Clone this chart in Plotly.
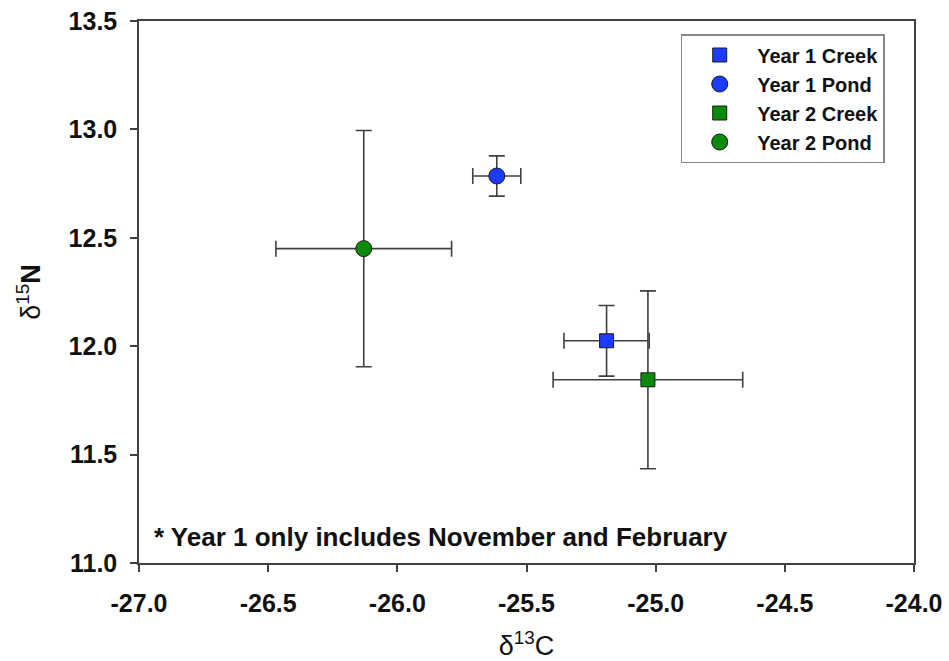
import plotly.graph_objects as go

series_names = ["Year 1 Creek", "Year 1 Pond", "Year 2 Creek", "Year 2 Pond"]
d13c = [-25.19, -25.615, -25.03, -26.13]
d13c_err = [0.165, 0.093, 0.367, 0.34]
d15n = [12.025, 12.785, 11.845, 12.45]
d15n_err = [0.163, 0.093, 0.41, 0.545]
symbols = ["square", "circle", "square", "circle"]
colors = ["#1a3cff", "#1a3cff", "#0a8a0a", "#0a8a0a"]
sizes = [14, 16, 14, 16]

x_ticks = [-27.0, -26.5, -26.0, -25.5, -25.0, -24.5, -24.0]
y_ticks = [11.0, 11.5, 12.0, 12.5, 13.0, 13.5]

FONT = "Liberation Sans, Arial, sans-serif"
AX = "#404040"

fig = go.Figure()
for i, name in enumerate(series_names):
    fig.add_trace(go.Scatter(
        x=[d13c[i]], y=[d15n[i]], name=name, mode="markers",
        marker=dict(symbol=symbols[i], size=sizes[i], color=colors[i],
                    line=dict(color="#1a1a1a", width=1)),
        error_x=dict(type="data", array=[d13c_err[i]], color=AX, thickness=1.6, width=8),
        error_y=dict(type="data", array=[d15n_err[i]], color=AX, thickness=1.6, width=8),
    ))

axis_common = dict(
    showline=True, linecolor=AX, linewidth=1.5, mirror=True,
    ticks="outside", ticklen=7, tickwidth=1.5, tickcolor=AX,
    showgrid=False, zeroline=False, automargin=False,
    tickfont=dict(family=FONT, size=25, color="#111111", weight="bold"),
)

fig.update_layout(
    width=949, height=661,
    margin=dict(l=139, r=35, t=21, b=98),
    paper_bgcolor="white", plot_bgcolor="white",
    font=dict(family=FONT, color="#111111"),
    xaxis=dict(range=[-27, -24], tickvals=x_ticks,
               ticktext=[f"{v:.1f}" for v in x_ticks],
               ticklabelstandoff=10,
               title=dict(text="δ<sup>13</sup>C", font=dict(size=27, family=FONT), standoff=24),
               **axis_common),
    yaxis=dict(range=[11, 13.5], tickvals=y_ticks,
               ticktext=[f"{v:.1f}" for v in y_ticks],
               ticklabelstandoff=8,
               title=dict(text="δ<sup>15</sup><b>N</b>", font=dict(size=27, family=FONT), standoff=20),
               **axis_common),
    legend=dict(x=0.699, y=0.976, xanchor="left", yanchor="top",
                bgcolor="white", bordercolor="#888888", borderwidth=1.5,
                font=dict(family=FONT, size=20, color="#111111", weight="bold"),
                itemwidth=65, tracegroupgap=0),
    showlegend=True,
    annotations=[dict(
        text="<b>* Year 1 only includes November and February</b>",
        xref="paper", yref="paper", x=0.0168, y=0.048,
        xanchor="left", yanchor="middle", showarrow=False,
        font=dict(family=FONT, size=26, color="#111111"),
    )],
)

fig.write_html("out.html")
